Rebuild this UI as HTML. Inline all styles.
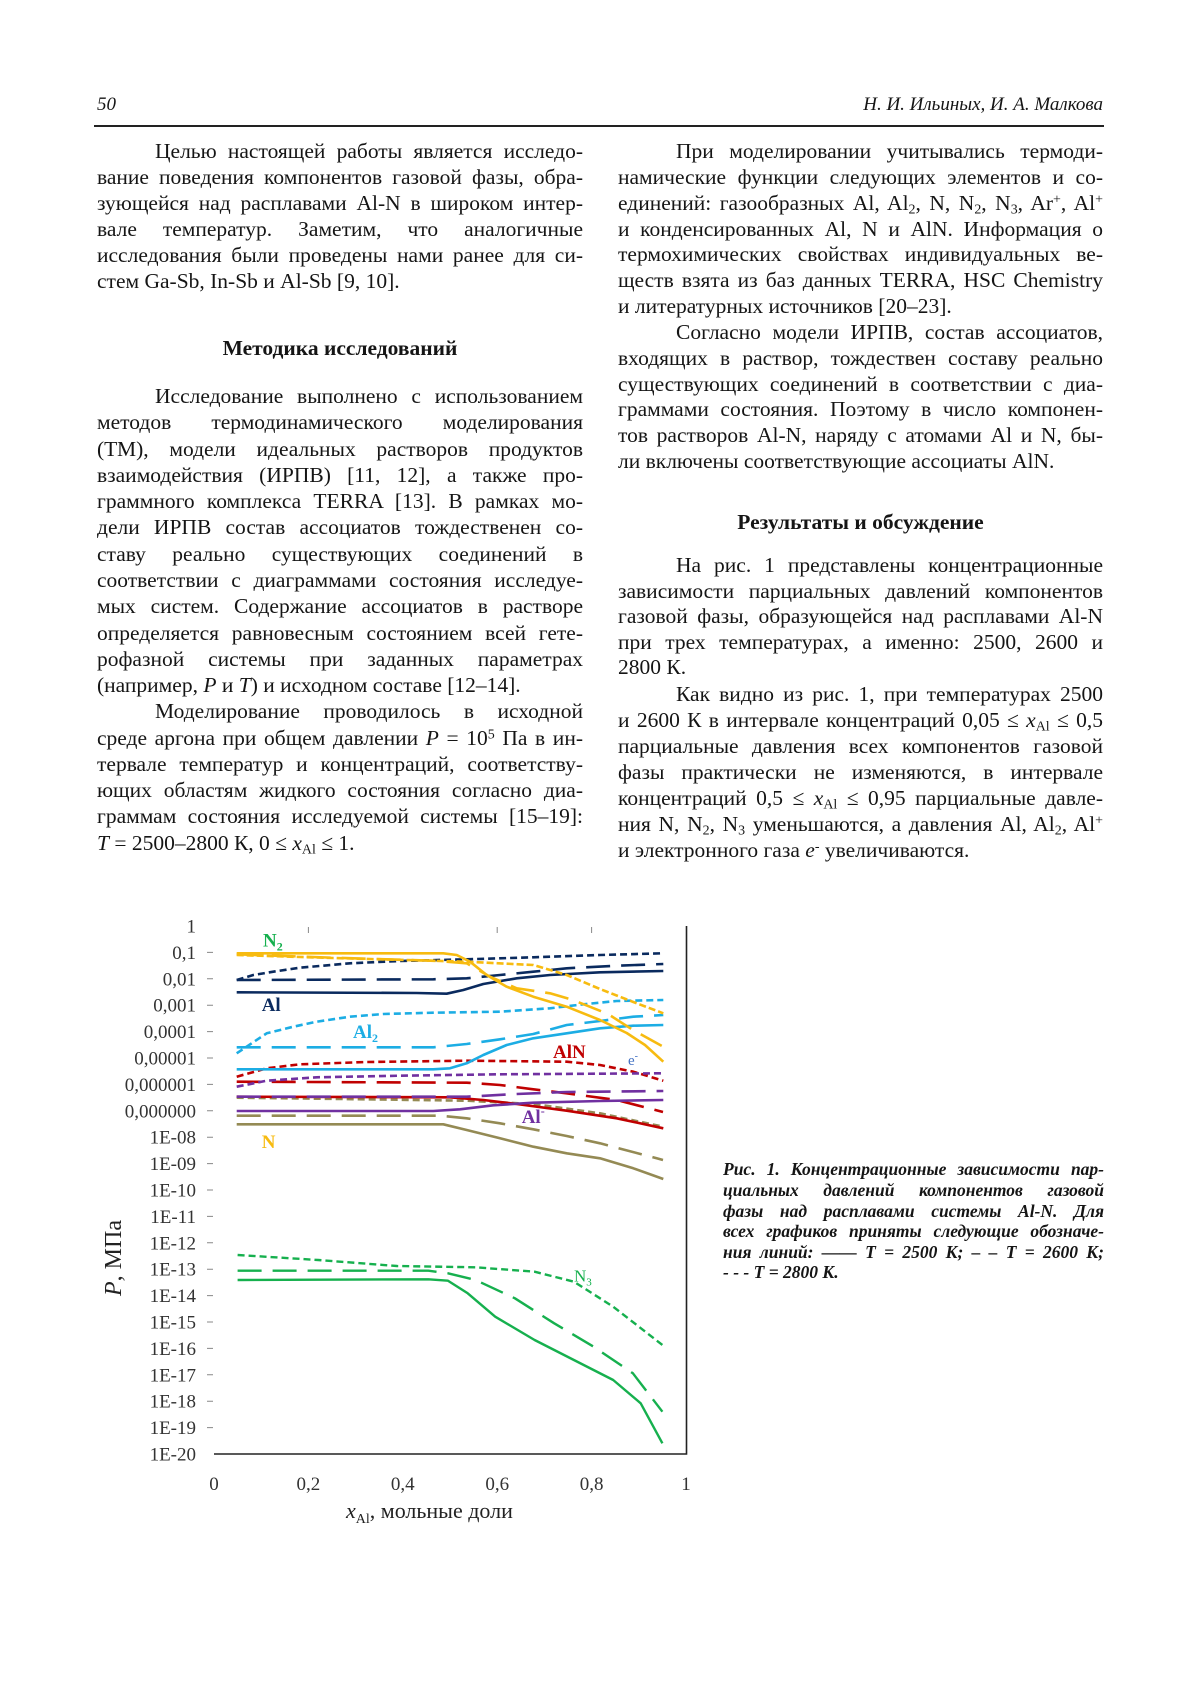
<!DOCTYPE html>
<html>
<head>
<meta charset="utf-8">
<style>
html,body{margin:0;padding:0;background:#fff;}
body{width:1200px;height:1698px;position:relative;overflow:hidden;font-family:"Liberation Serif","DejaVu Serif",serif;color:#151515;}
.ln{position:absolute;white-space:nowrap;font-size:21.5px;line-height:26px;height:26px;}
.j{text-align:justify;text-align-last:justify;}
.h{font-weight:bold;text-align:center;}
sub{font-size:0.65em;vertical-align:-0.25em;line-height:0;}
sup{font-size:0.65em;vertical-align:0.45em;line-height:0;}
.cap{position:absolute;white-space:nowrap;font-size:17.5px;line-height:20px;height:20px;font-weight:bold;font-style:italic;left:723px;width:381px;}
.hdr{position:absolute;font-size:19px;line-height:24px;font-style:italic;top:92.6px;white-space:nowrap;}
</style>
</head>
<body>

<div class="hdr" style="left:97px;">50</div>
<div class="hdr" style="right:97px;text-align:right;">Н. И. Ильиных, И. А. Малкова</div>
<div style="position:absolute;left:94px;top:125.2px;width:1010px;height:1.6px;background:#222;"></div>

<!-- LEFT COLUMN -->
<div class="ln j" style="left:155px;width:428px;top:137.7px;">Целью настоящей работы является исследо-</div>
<div class="ln j" style="left:97px;width:486px;top:163.8px;">вание поведения компонентов газовой фазы, обра-</div>
<div class="ln j" style="left:97px;width:486px;top:189.9px;">зующейся над расплавами Al-N в широком интер-</div>
<div class="ln j" style="left:97px;width:486px;top:216.0px;">вале температур. Заметим, что аналогичные</div>
<div class="ln j" style="left:97px;width:486px;top:242.1px;">исследования были проведены нами ранее для си-</div>
<div class="ln" style="left:97px;width:486px;top:268.2px;">стем Ga-Sb, In-Sb и Al-Sb [9, 10].</div>

<div class="ln h" style="left:97px;width:486px;top:334.7px;">Методика исследований</div>

<div class="ln j" style="left:155px;width:428px;top:383.0px;">Исследование выполнено с использованием</div>
<div class="ln j" style="left:97px;width:486px;top:409.3px;">методов термодинамического моделирования</div>
<div class="ln j" style="left:97px;width:486px;top:435.6px;">(ТМ), модели идеальных растворов продуктов</div>
<div class="ln j" style="left:97px;width:486px;top:461.8px;">взаимодействия (ИРПВ) [11, 12], а также про-</div>
<div class="ln j" style="left:97px;width:486px;top:488.1px;">граммного комплекса TERRA [13]. В рамках мо-</div>
<div class="ln j" style="left:97px;width:486px;top:514.4px;">дели ИРПВ состав ассоциатов тождественен со-</div>
<div class="ln j" style="left:97px;width:486px;top:540.7px;">ставу реально существующих соединений в</div>
<div class="ln j" style="left:97px;width:486px;top:566.9px;">соответствии с диаграммами состояния исследуе-</div>
<div class="ln j" style="left:97px;width:486px;top:593.2px;">мых систем. Содержание ассоциатов в растворе</div>
<div class="ln j" style="left:97px;width:486px;top:619.5px;">определяется равновесным состоянием всей гете-</div>
<div class="ln j" style="left:97px;width:486px;top:645.7px;">рофазной системы при заданных параметрах</div>
<div class="ln" style="left:97px;width:486px;top:672.0px;">(например, <i>P</i> и <i>T</i>) и исходном составе [12–14].</div>
<div class="ln j" style="left:155px;width:428px;top:698.3px;">Моделирование проводилось в исходной</div>
<div class="ln j" style="left:97px;width:486px;top:724.6px;">среде аргона при общем давлении <i>P</i> = 10<sup>5</sup> Па в ин-</div>
<div class="ln j" style="left:97px;width:486px;top:750.8px;">тервале температур и концентраций, соответству-</div>
<div class="ln j" style="left:97px;width:486px;top:777.1px;">ющих областям жидкого состояния согласно диа-</div>
<div class="ln j" style="left:97px;width:486px;top:803.4px;">граммам состояния исследуемой системы [15–19]:</div>
<div class="ln" style="left:97px;width:486px;top:829.6px;"><i>T</i> = 2500–2800 К, 0 ≤ <i>x</i><sub>Al</sub> ≤ 1.</div>

<!-- RIGHT COLUMN -->
<div class="ln j" style="left:676px;width:427px;top:138.0px;">При моделировании учитывались термоди-</div>
<div class="ln j" style="left:618px;width:485px;top:163.9px;">намические функции следующих элементов и со-</div>
<div class="ln j" style="left:618px;width:485px;top:189.7px;">единений: газообразных Al, Al<sub>2</sub>, N, N<sub>2</sub>, N<sub>3</sub>, Ar<sup>+</sup>, Al<sup>+</sup></div>
<div class="ln j" style="left:618px;width:485px;top:215.5px;">и конденсированных Al, N и AlN. Информация о</div>
<div class="ln j" style="left:618px;width:485px;top:241.4px;">термохимических свойствах индивидуальных ве-</div>
<div class="ln j" style="left:618px;width:485px;top:267.2px;">ществ взята из баз данных TERRA, HSC Chemistry</div>
<div class="ln" style="left:618px;width:485px;top:293.0px;">и литературных источников [20–23].</div>
<div class="ln j" style="left:676px;width:427px;top:318.9px;">Согласно модели ИРПВ, состав ассоциатов,</div>
<div class="ln j" style="left:618px;width:485px;top:344.7px;">входящих в раствор, тождествен составу реально</div>
<div class="ln j" style="left:618px;width:485px;top:370.5px;">существующих соединений в соответствии с диа-</div>
<div class="ln j" style="left:618px;width:485px;top:396.3px;">граммами состояния. Поэтому в число компонен-</div>
<div class="ln j" style="left:618px;width:485px;top:422.2px;">тов растворов Al-N, наряду с атомами Al и N, бы-</div>
<div class="ln" style="left:618px;width:485px;top:448.0px;">ли включены соответствующие ассоциаты AlN.</div>

<div class="ln h" style="left:618px;width:485px;top:508.7px;">Результаты и обсуждение</div>

<div class="ln j" style="left:676px;width:427px;top:552.1px;">На рис. 1 представлены концентрационные</div>
<div class="ln j" style="left:618px;width:485px;top:577.6px;">зависимости парциальных давлений компонентов</div>
<div class="ln j" style="left:618px;width:485px;top:603.1px;">газовой фазы, образующейся над расплавами Al-N</div>
<div class="ln j" style="left:618px;width:485px;top:628.6px;">при трех температурах, а именно: 2500, 2600 и</div>
<div class="ln" style="left:618px;width:485px;top:654.1px;">2800 К.</div>
<div class="ln j" style="left:676px;width:427px;top:681.1px;">Как видно из рис. 1, при температурах 2500</div>
<div class="ln j" style="left:618px;width:485px;top:707.1px;">и 2600 К в интервале концентраций 0,05 ≤ <i>x</i><sub>Al</sub> ≤ 0,5</div>
<div class="ln j" style="left:618px;width:485px;top:733.1px;">парциальные давления всех компонентов газовой</div>
<div class="ln j" style="left:618px;width:485px;top:759.1px;">фазы практически не изменяются, в интервале</div>
<div class="ln j" style="left:618px;width:485px;top:785.1px;">концентраций 0,5 ≤ <i>x</i><sub>Al</sub> ≤ 0,95 парциальные давле-</div>
<div class="ln j" style="left:618px;width:485px;top:811.1px;">ния N, N<sub>2</sub>, N<sub>3</sub> уменьшаются, а давления Al, Al<sub>2</sub>, Al<sup>+</sup></div>
<div class="ln" style="left:618px;width:485px;top:837.1px;">и электронного газа <i>e</i><sup>-</sup> увеличиваются.</div>

<!-- CAPTION -->
<div class="cap j" style="top:1159.4px;">Рис. 1. Концентрационные зависимости пар-</div>
<div class="cap j" style="top:1180.0px;">циальных давлений компонентов газовой</div>
<div class="cap j" style="top:1200.6px;">фазы над расплавами системы Al-N. Для</div>
<div class="cap j" style="top:1221.2px;">всех графиков приняты следующие обозначе-</div>
<div class="cap j" style="top:1241.8px;">ния линий: —— <i>T</i> = 2500 К; – – <i>T</i> = 2600 К;</div>
<div class="cap" style="top:1262.4px;">- - - <i>T</i> = 2800 К.</div>

<!-- CHART -->
<svg style="position:absolute;left:0;top:0;" width="1200" height="1698" viewBox="0 0 1200 1698" xmlns="http://www.w3.org/2000/svg">
<g font-family="Liberation Serif, DejaVu Serif, serif" font-size="19" fill="#333" text-anchor="end">
<text x="196" y="932.5">1</text>
<text x="196" y="958.9">0,1</text>
<text x="196" y="985.3">0,01</text>
<text x="196" y="1011.7">0,001</text>
<text x="196" y="1038.1">0,0001</text>
<text x="196" y="1064.5">0,00001</text>
<text x="196" y="1090.9">0,000001</text>
<text x="196" y="1117.3">0,000000</text>
<text x="196" y="1143.7">1E-08</text>
<text x="196" y="1170.1">1E-09</text>
<text x="196" y="1196.5">1E-10</text>
<text x="196" y="1222.9">1E-11</text>
<text x="196" y="1249.3">1E-12</text>
<text x="196" y="1275.7">1E-13</text>
<text x="196" y="1302.1">1E-14</text>
<text x="196" y="1328.5">1E-15</text>
<text x="196" y="1354.9">1E-16</text>
<text x="196" y="1381.3">1E-17</text>
<text x="196" y="1407.7">1E-18</text>
<text x="196" y="1434.1">1E-19</text>
<text x="196" y="1460.5">1E-20</text>
</g>
<g stroke="#888" stroke-width="1">
<path d="M207 952.4h6M207 978.8h6M207 1005.2h6M207 1031.6h6M207 1058h6M207 1084.4h6M207 1110.8h6M207 1137.2h6M207 1163.6h6M207 1190h6M207 1216.4h6M207 1242.8h6M207 1269.2h6M207 1295.6h6M207 1322h6M207 1348.4h6M207 1374.8h6M207 1401.2h6M207 1427.6h6"/>
<path d="M308.4 927v6M497.2 927v6M591.6 927v6"/>
</g>
<path d="M214 1454H686.5V926" fill="none" stroke="#222" stroke-width="1.6"/>
<g font-family="Liberation Serif, DejaVu Serif, serif" font-size="19" fill="#333" text-anchor="middle">
<text x="214" y="1490">0</text>
<text x="308.4" y="1490">0,2</text>
<text x="402.8" y="1490">0,4</text>
<text x="497.2" y="1490">0,6</text>
<text x="591.6" y="1490">0,8</text>
<text x="686" y="1490">1</text>
</g>
<text x="346" y="1518" font-family="Liberation Serif, DejaVu Serif, serif" font-size="22" fill="#222"><tspan font-style="italic">x</tspan><tspan font-size="14" dy="5">Al</tspan><tspan dy="-5">, мольные доли</tspan></text>
<text transform="translate(121,1258) rotate(-90)" text-anchor="middle" font-family="Liberation Serif, DejaVu Serif, serif" font-size="24" fill="#222"><tspan font-style="italic">P</tspan>, МПа</text>

<g fill="none" stroke-width="2.6" stroke-linejoin="round" stroke-linecap="butt">
<!-- N (olive) -->
<path stroke="#948A54" d="M236.7 1124.3L443.3 1124.3L466.7 1130L500 1138.3L533.3 1146.7L566.7 1153.3L600 1158.3L633.3 1168.3L663.3 1179"/>
<path stroke="#948A54" stroke-dasharray="24,11" d="M236.7 1115.7L440 1115.7L466.7 1118.3L500 1123.3L533.3 1129.3L566.7 1136L600 1143.3L656.7 1158.3L663 1160"/>
<path stroke="#948A54" stroke-dasharray="7,4" d="M236.7 1097.7L366.7 1099.3L466.7 1100.7L533.3 1104L600 1113.3L663.3 1126.7"/>
<!-- AlN (red) -->
<path stroke="#C00000" d="M236.7 1096.7L450 1097.3L483.3 1100L516.7 1104L566.7 1110.7L616.7 1118.3L663.3 1128.3"/>
<path stroke="#C00000" stroke-dasharray="24,11" d="M236.7 1081.7L466.7 1082.7L500 1085L533.3 1089.3L566.7 1093.3L616.7 1100L663 1112"/>
<path stroke="#C00000" stroke-dasharray="7,4" d="M236.7 1076.7L266.7 1068.3L300 1064.3L366.7 1062L466.7 1060.7L566.7 1061.7L600 1065L633.3 1071.7L663.3 1080.7"/>
<!-- purple -->
<path stroke="#7030A0" d="M236.7 1111L433.3 1111L460 1109.3L493.3 1105.3L533.3 1102.7L600 1101L663.3 1100"/>
<path stroke="#7030A0" stroke-dasharray="24,11" d="M236.7 1096.7L466.7 1096.7L516.7 1094L566.7 1092L663.3 1091"/>
<path stroke="#7030A0" stroke-dasharray="7,4" d="M236.7 1086.7L266.7 1080.7L316.7 1077.3L400 1075.7L500 1074.3L663.3 1073.3"/>
<!-- Al2 (cyan) -->
<path stroke="#1CADE4" d="M236.7 1069.3L433.3 1069.3L450 1068.3L466.7 1063.3L483.3 1055L506.7 1045L533.3 1038.3L566.7 1033.3L600 1028.3L633.3 1025.7L663.3 1025"/>
<path stroke="#1CADE4" stroke-dasharray="24,11" d="M236.7 1047.3L433.3 1047.3L466.7 1044L500 1039.3L533.3 1034L566.7 1025L600 1021L633.3 1016.7L663.3 1015"/>
<path stroke="#1CADE4" stroke-dasharray="7,4" d="M236.7 1053.3L266.7 1033.3L293.3 1026.7L316.7 1021.7L350 1016.7L383.3 1014L433.3 1012.7L500 1011.7L550 1008.3L583.3 1004.3L616.7 1001L663.3 1000"/>
<!-- Al (navy) -->
<path stroke="#0A2A5E" d="M236.7 992.3L416.7 993L446.7 993.7L463.3 990L483.3 984L516.7 978.3L550 975L600 972.3L663.3 971"/>
<path stroke="#0A2A5E" stroke-dasharray="24,11" d="M236.7 980L433.3 979.3L466.7 978.3L500 975L533.3 971.7L566.7 968.3L616.7 965.7L663.3 964"/>
<path stroke="#0A2A5E" stroke-dasharray="7,4" d="M236.7 980L253.3 975L273.3 971.7L300 967.7L350 963.3L400 961L466.7 959.3L533.3 957.3L600 955L663.3 953.3"/>
<!-- N2 (yellow) -->
<path stroke="#F7BB10" d="M236.7 953.3L443.3 953.3L456.7 955L470 961.7L486.7 975L506.7 986.7L533.3 996.7L566.7 1006.7L600 1020L626.7 1033L645 1045L663.3 1061.7"/>
<path stroke="#F7BB10" stroke-dasharray="24,11" d="M236.7 954.3L333 957.7L433 960.7L466.7 963.3L490 976.7L516.7 988.3L550 993.3L573 1000L608 1014L633 1030L662 1046"/>
<path stroke="#F7BB10" stroke-dasharray="7,3" d="M236.7 955L333 958L466.7 961.7L533.3 965L566.7 975L600 989L633.3 1002L663.3 1013.3"/>
<!-- N3 (green) -->
<path stroke="#16B04E" stroke-width="2.4" d="M237.6 1280L428.4 1279.3L448 1280.7L467.7 1293.3L495.2 1316.7L534.6 1340L573.9 1360L613.2 1380L640.7 1403.3L662.4 1443.3"/>
<path stroke="#16B04E" stroke-width="2.4" stroke-dasharray="24,11" d="M237.6 1270.7L428.4 1270.7L448 1273.3L475.6 1280L514.9 1298.3L554.2 1323.3L593.6 1346.7L632.9 1373.3L662.4 1411.7"/>
<path stroke="#16B04E" stroke-width="2.4" stroke-dasharray="7,4" d="M237.6 1255L318.2 1260L396.9 1266L475.6 1267.3L534.6 1271.7L573.9 1281.7L613.2 1306.7L662.4 1345"/>
</g>
<g font-family="Liberation Serif, DejaVu Serif, serif" font-weight="bold">
<text x="263" y="946.7" font-size="19" fill="#16B04E">N<tspan font-size="12" dy="4">2</tspan></text>
<text x="261.7" y="1011" font-size="19" fill="#0A2A5E">Al</text>
<text x="353" y="1038" font-size="19" fill="#1CADE4">Al<tspan font-size="12" dy="4">2</tspan></text>
<text x="553" y="1058" font-size="19" fill="#C00000">AlN</text>
<text x="521.7" y="1123" font-size="19" fill="#7030A0">Al<tspan font-size="12" dy="-8">-</tspan></text>
<text x="261.7" y="1148" font-size="19" fill="#F7BB10">N</text>
<text x="574" y="1281.7" font-size="17" fill="#16B04E" font-weight="normal">N<tspan font-size="11" dy="4">3</tspan></text>
</g>
<text x="628" y="1065" font-family="Liberation Serif, DejaVu Serif, serif" font-size="15" fill="#4472C4">e<tspan font-size="10" dy="-6">-</tspan></text>
</svg>

</body>
</html>
